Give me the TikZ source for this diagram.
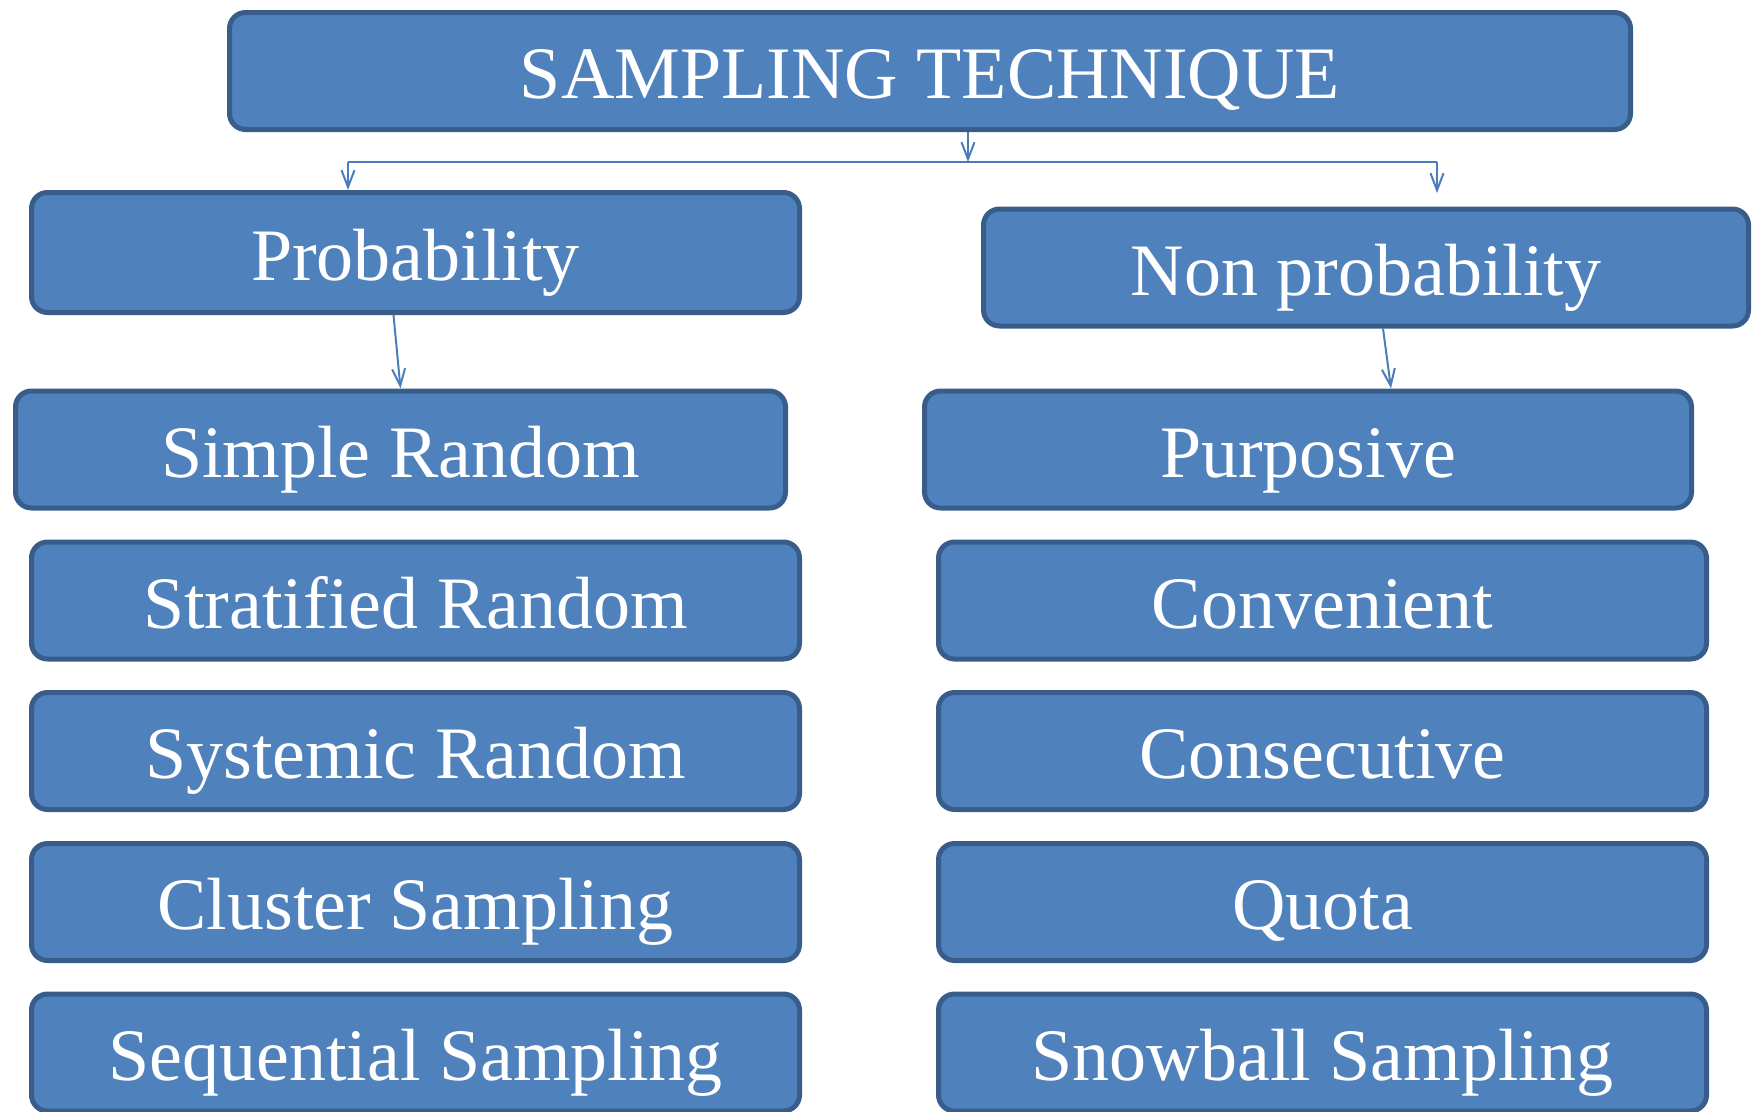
\documentclass[tikz,border=0pt]{standalone}
\usepackage{fontspec}
\setmainfont{Liberation Serif}
\usetikzlibrary{arrows.meta,calc}
\definecolor{boxfill}{HTML}{4F81BD}
\definecolor{boxline}{HTML}{385D8A}
\definecolor{linkcol}{HTML}{4A7EBB}

\begin{document}
\begin{tikzpicture}[x=1pt, y=-1pt,
    box/.style={draw=boxline, line width=5pt, fill=boxfill, rounded corners=16pt,
        text=white, font=\fontsize{74}{80}\selectfont, minimum height=117pt,
        text height=55pt, text depth=0pt, inner sep=0pt},
    link/.style={draw=linkcol, line width=2pt},
    tip/.style={link, -{Straight Barb[length=17pt, width=13pt]}}]
    \clip (0,0) rectangle (1752,1111);

    \node[box, minimum width=1401pt](root) at (930,71) {SAMPLING TECHNIQUE};
    \node[box, minimum width=768pt, minimum height=120pt](prob) at (415.5,252.5) {Probability};
    \node[box, minimum width=765pt](nonprob) at (1366,267.5) {Non probability};

    % probability side
    \node[box, minimum width=770pt](sr) at (400.5,449.5) {Simple Random};
    \node[box, minimum width=768pt](strat) at (415.5,600.5) {Stratified Random};
    \node[box, minimum width=768pt](syst) at (415.5,751) {Systemic Random};
    \node[box, minimum width=768pt](clus) at (415.5,902) {Cluster Sampling};
    \node[box, minimum width=768pt](seq) at (415.5,1052.5) {Sequential Sampling};

    % non probability side
    \node[box, minimum width=767pt](purp) at (1308,449.5) {Purposive};
    \node[box, minimum width=768pt](conv) at (1322.5,600.5) {Convenient};
    \node[box, minimum width=768pt](cons) at (1322.5,751) {Consecutive};
    \node[box, minimum width=768pt](quota) at (1322.5,902) {Quota};
    \node[box, minimum width=768pt](snow) at (1322.5,1052.5) {Snowball Sampling};

    \coordinate (hub) at (968,162);
    \coordinate (barL) at (348,162);
    \coordinate (barR) at (1437,162);
    \coordinate (npTip) at (1437,193);

    \draw[link] (barL) -- (barR);
    \draw[tip] (root.south -| hub) -- (hub);
    \draw[tip] (barL) -- (barL |- prob.north);
    \draw[tip] (barR) -- (npTip);
    \draw[tip] ($(prob.south)+(-22,0)$) -- (sr.north);
    \draw[tip] ($(nonprob.south)+(17,0)$) -- ($(purp.north)+(83,0)$);
\end{tikzpicture}
\end{document}
